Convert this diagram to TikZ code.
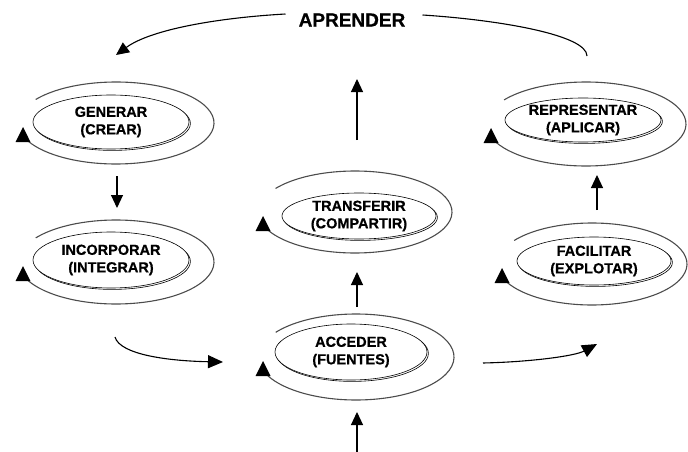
\documentclass[tikz,border=0pt]{standalone}
\usepackage{fontspec}
\setmainfont{Liberation Sans}[BoldFeatures={FakeBold=0.6}]
\usetikzlibrary{arrows.meta,shapes.geometric,shadows}
% ring round a node: #1 node, #2/#3 centre offset, #4/#5 radii
\newcommand\ringaround[5]{%
  \draw[ring] ([shift={(#2,#3)}]#1.center) ++(215:#4 and #5)
    arc[start angle=215, end angle=518, x radius=#4, y radius=#5];
  \fill[ringtip] ([shift={(#2,#3)}]#1.center) ++(-#4+5,4) -- ++(-7.5,15) -- ++(15,0) -- cycle;}
\begin{document}
\begin{tikzpicture}[x=1pt,y=-1pt,
  lbl/.style={ellipse, draw=black, line width=0.6pt, fill=white, inner sep=0pt,
    align=center, font=\bfseries\fontsize{14.5}{17.5}\selectfont,
    drop shadow={shadow xshift=1.4pt, shadow yshift=-1.4pt, fill=none,
      draw=black, line width=0.6pt, opacity=1}},
  ring/.style={draw=black!70, line width=1.1pt},
  ringtip/.style={fill=black},
  arr/.style={draw=black, line width=1.1pt, -{Triangle[length=13pt,width=12pt]}},
  arrc/.style={draw=black, line width=1.1pt, -{Triangle[length=15pt,width=13pt]}},
  link/.style={draw=black, line width=1.1pt}]
\useasboundingbox (0,0) rectangle (688,452);

% title
\node[font=\bfseries\fontsize{19}{21}\selectfont, inner sep=0pt] (apr) at (352,20) {APRENDER};

% activity nodes
\node[lbl, minimum width=156pt, minimum height=54pt] (gen) at (111,122) {GENERAR\\(CREAR)};
\node[lbl, minimum width=156pt, minimum height=56pt] (inc) at (111,260) {INCORPORAR\\(INTEGRAR)};
\node[lbl, minimum width=154pt, minimum height=46pt] (tra) at (359,216) {TRANSFERIR\\(COMPARTIR)};
\node[lbl, minimum width=152pt, minimum height=56pt] (acc) at (351,352) {ACCEDER\\(FUENTES)};
\node[lbl, minimum width=156pt, minimum height=44pt] (rep) at (583,120) {REPRESENTAR\\(APLICAR)};
\node[lbl, minimum width=154pt, minimum height=48pt] (fac) at (594,261) {FACILITAR\\(EXPLOTAR)};

% cycle rings
\ringaround{gen}{5}{1}{98}{41}
\ringaround{inc}{5}{2}{98}{42}
\ringaround{tra}{-4}{-4}{97}{41}
\ringaround{acc}{5}{5}{98}{43}
\begin{scope}
\clip (0,0) rectangle (688,452);
\ringaround{rep}{3}{4}{100}{42}
\ringaround{fac}{-2}{3}{95}{41}
\end{scope}

% free connector ends
\coordinate (aprL) at (116,55);
\coordinate (aprR) at (587,56);
\coordinate (midB) at (357,140);
\coordinate (midT) at (357,79);
\coordinate (genB) at (117,176);
\coordinate (incT) at (117,208);
\coordinate (accT) at (357,307);
\coordinate (traB) at (357,272);
\coordinate (botB) at (357,452);
\coordinate (accB) at (357,412);
\coordinate (facT) at (597,210);
\coordinate (repB) at (597,175);
\coordinate (incE) at (115,337);
\coordinate (accW) at (223,362);
\coordinate (accE) at (483,363);
\coordinate (facW) at (597,344);

% connectors
\draw[arr] ([shift={(-13,-6)}]apr.west) .. controls (215,18) and (150,30) .. (aprL);
\draw[link] ([shift={(17,-5)}]apr.east) .. controls (500,20) and (587,35) .. (aprR);
\draw[arr] (midB) -- (midT);
\draw[arr] (genB) -- (incT);
\draw[arr] (accT) -- (traB);
\draw[arr] (botB) -- (accB);
\draw[arr] (facT) -- (repB);
\draw[arrc] (incE) .. controls (120,355) and (170,361) .. (accW);
\draw[arrc] (accE) .. controls (530,362) and (575,356) .. (facW);
\end{tikzpicture}
\end{document}
